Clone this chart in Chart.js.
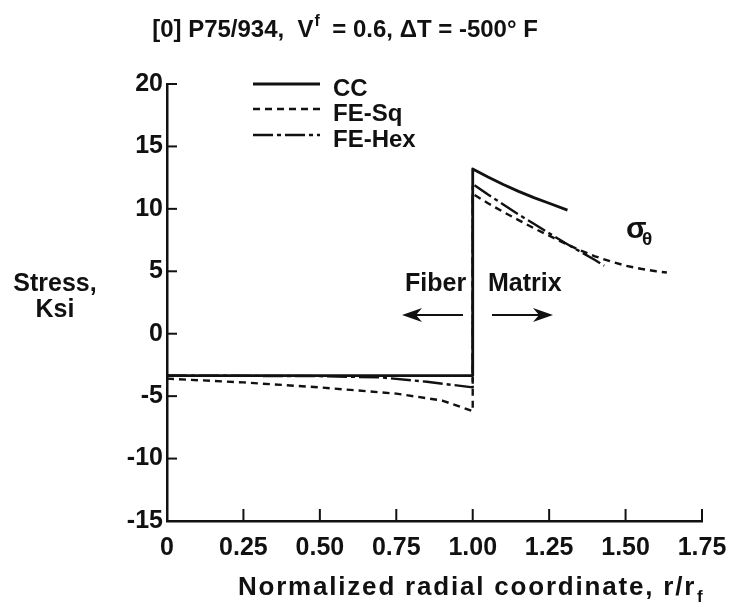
<!DOCTYPE html>
<html>
<head>
<meta charset="utf-8">
<script src="https://cdn.jsdelivr.net/npm/chart.js@4.4.1/dist/chart.umd.min.js"></script>
<style>
  html, body { margin: 0; padding: 0; background: #fff; }
  #wrap { width: 731px; height: 607px; }
</style>
</head>
<body>
<div id="wrap"><canvas id="stressChart" width="731" height="607"></canvas></div>
<script>
// Hoop stress vs. normalized radius, fiber (r < 1) and matrix (r > 1)
const ccR = [0, 0.25, 0.5, 0.75, 1.0, 1.0, 1.05, 1.1, 1.15, 1.2, 1.25, 1.31];
const ccStress = [-3.35, -3.35, -3.35, -3.35, -3.35, 13.2, 12.55, 11.95, 11.4, 10.9, 10.45, 9.9];

const sqR = [0, 0.25, 0.5, 0.75, 0.9, 1.0, 1.0, 1.05, 1.1, 1.15, 1.2, 1.25, 1.3, 1.35, 1.4, 1.45, 1.5, 1.55, 1.6, 1.635];
const sqStress = [-3.6, -3.9, -4.3, -4.8, -5.35, -6.2, 11.2, 10.45, 9.75, 9.1, 8.45, 7.85, 7.25, 6.7, 6.2, 5.8, 5.45, 5.2, 5.0, 4.9];

const hexR = [0, 0.5, 0.7, 0.85, 1.0, 1.0, 1.05, 1.1, 1.15, 1.2, 1.25, 1.3, 1.35, 1.4, 1.43];
const hexStress = [-3.35, -3.4, -3.5, -3.85, -4.3, 12.0, 11.15, 10.35, 9.55, 8.8, 8.05, 7.3, 6.6, 5.9, 5.45];

const xTickLabels = ["0", "0.25", "0.50", "0.75", "1.00", "1.25", "1.50", "1.75"];
const yTickValues = [-15, -10, -5, 0, 5, 10, 15, 20];

const BLACK = "#111";
const FONT = '"Liberation Sans", Arial, sans-serif';

const toPoints = (xs, ys) => xs.map((x, i) => ({ x: x, y: ys[i] }));

// Legend, inward tick marks and the free text labels
const decor = {
  id: "decor",
  beforeDraw(chart) {
    const ctx = chart.ctx;
    ctx.save();
    ctx.fillStyle = "#fff";
    ctx.fillRect(0, 0, chart.width, chart.height);
    ctx.restore();
  },
  afterDraw(chart) {
    const { ctx, chartArea, scales } = chart;
    const xs = scales.x;
    const ys = scales.y;
    ctx.save();
    ctx.strokeStyle = BLACK;
    ctx.fillStyle = BLACK;
    ctx.lineWidth = 2;

    // ticks pointing into the plot
    ys.ticks.forEach((t) => {
      if (t.value === ys.min) return;
      const py = ys.getPixelForValue(t.value);
      ctx.beginPath();
      ctx.moveTo(chartArea.left, py);
      ctx.lineTo(chartArea.left + 10, py);
      ctx.stroke();
    });
    xs.ticks.forEach((t) => {
      if (t.value === xs.min) return;
      const px = xs.getPixelForValue(t.value);
      ctx.beginPath();
      ctx.moveTo(px, chartArea.bottom);
      ctx.lineTo(px, chartArea.bottom - 12);
      ctx.stroke();
    });

    // title with superscript
    ctx.textBaseline = "alphabetic";
    ctx.textAlign = "left";
    const t1 = "[0] P75/934,  V";
    const t2 = "  = 0.6, \u0394T = -500\u00b0 F";
    ctx.font = "bold 24px " + FONT;
    const w1 = ctx.measureText(t1).width;
    const w3 = ctx.measureText(t2).width;
    ctx.font = "bold 16px " + FONT;
    const w2 = ctx.measureText("f").width;
    const tx = 345 - (w1 + w2 + w3) / 2;
    ctx.font = "bold 24px " + FONT;
    ctx.fillText(t1, tx, 37);
    ctx.font = "bold 16px " + FONT;
    ctx.fillText("f", tx + w1 + 1, 26);
    ctx.font = "bold 24px " + FONT;
    ctx.fillText(t2, tx + w1 + w2, 37);

    // legend
    const rows = [96, 121, 147];
    chart.data.datasets.forEach((ds, i) => {
      const ly = rows[i] - 12;
      ctx.save();
      ctx.lineWidth = ds.borderWidth;
      ctx.setLineDash(ds.borderDash || []);
      ctx.beginPath();
      ctx.moveTo(253, ly);
      ctx.lineTo(320, ly);
      ctx.stroke();
      ctx.restore();
      ctx.font = "bold 24px " + FONT;
      ctx.fillText(ds.label, 333, rows[i]);
    });

    // y axis title
    ctx.textAlign = "center";
    ctx.font = "bold 25px " + FONT;
    ctx.fillText("Stress,", 55, 291);
    ctx.fillText("Ksi", 55, 317);

    // x axis title with subscript
    ctx.textAlign = "left";
    ctx.font = "bold 26px " + FONT;
    ctx.letterSpacing = "1.8px";
    const xt = "Normalized radial coordinate, r/r";
    const xw = ctx.measureText(xt).width;
    const sx = 472 - (xw + 10) / 2;
    ctx.fillText(xt, sx, 595);
    ctx.letterSpacing = "0px";
    ctx.font = "bold 17px " + FONT;
    ctx.fillText("f", sx + xw + 1, 602);

    // region labels and arrows
    ctx.font = "bold 25px " + FONT;
    ctx.fillText("Fiber", 405, 291);
    ctx.fillText("Matrix", 488, 291);
    const arrow = (x0, x1, y) => {
      const dir = Math.sign(x1 - x0);
      ctx.lineWidth = 2;
      ctx.beginPath();
      ctx.moveTo(x0, y);
      ctx.lineTo(x1 - dir * 10, y);
      ctx.stroke();
      ctx.beginPath();
      ctx.moveTo(x1, y);
      ctx.lineTo(x1 - dir * 20, y - 7);
      ctx.lineTo(x1 - dir * 14, y);
      ctx.lineTo(x1 - dir * 20, y + 7);
      ctx.closePath();
      ctx.fill();
    };
    arrow(463, 402, 315);
    arrow(492, 553, 315);

    // sigma theta
    ctx.font = "bold 30px " + FONT;
    ctx.fillText("\u03c3", 626, 238);
    ctx.font = "bold 19px " + FONT;
    ctx.fillText("\u03b8", 642, 245);

    ctx.restore();
  }
};

new Chart(document.getElementById("stressChart"), {
  type: "line",
  data: {
    datasets: [
      {
        label: "CC",
        data: toPoints(ccR, ccStress),
        borderColor: BLACK,
        borderWidth: 2.8,
        borderDash: [],
      },
      {
        label: "FE-Sq",
        data: toPoints(sqR, sqStress),
        borderColor: BLACK,
        borderWidth: 2.4,
        borderDash: [7, 5],
      },
      {
        label: "FE-Hex",
        data: toPoints(hexR, hexStress),
        borderColor: BLACK,
        borderWidth: 2.4,
        borderDash: [20, 4, 4, 4],
      },
    ],
  },
  options: {
    responsive: false,
    animation: false,
    events: [],
    elements: {
      point: { radius: 0 },
      line: { tension: 0, borderCapStyle: "butt", borderJoinStyle: "round", fill: false },
    },
    layout: { padding: { left: 0, top: 84, right: 29, bottom: 0 } },
    plugins: {
      legend: { display: false },
      tooltip: { enabled: false },
    },
    scales: {
      x: {
        type: "linear",
        min: 0,
        max: 1.75,
        afterBuildTicks: (s) => {
          s.ticks = xTickLabels.map((l) => ({ value: Number(l) }));
        },
        afterFit: (s) => {
          s.height = 86;
          s.paddingLeft = 0;
          s.paddingRight = 0;
        },
        grid: { display: false, drawTicks: false },
        border: { display: true, color: BLACK, width: 2.5 },
        ticks: {
          autoSkip: false,
          maxRotation: 0,
          padding: 12,
          color: BLACK,
          font: { family: FONT, size: 25, weight: "bold" },
          callback: (v, i) => xTickLabels[i],
        },
      },
      y: {
        type: "linear",
        min: -15,
        max: 20,
        afterBuildTicks: (s) => {
          s.ticks = yTickValues.map((v) => ({ value: v }));
        },
        afterFit: (s) => {
          s.width = 167;
          s.paddingTop = 0;
          s.paddingBottom = 0;
        },
        grid: { display: false, drawTicks: false },
        border: { display: true, color: BLACK, width: 2.5 },
        ticks: {
          padding: 4,
          color: BLACK,
          font: { family: FONT, size: 25, weight: "bold" },
        },
      },
    },
  },
  plugins: [decor],
});
</script>
</body>
</html>
